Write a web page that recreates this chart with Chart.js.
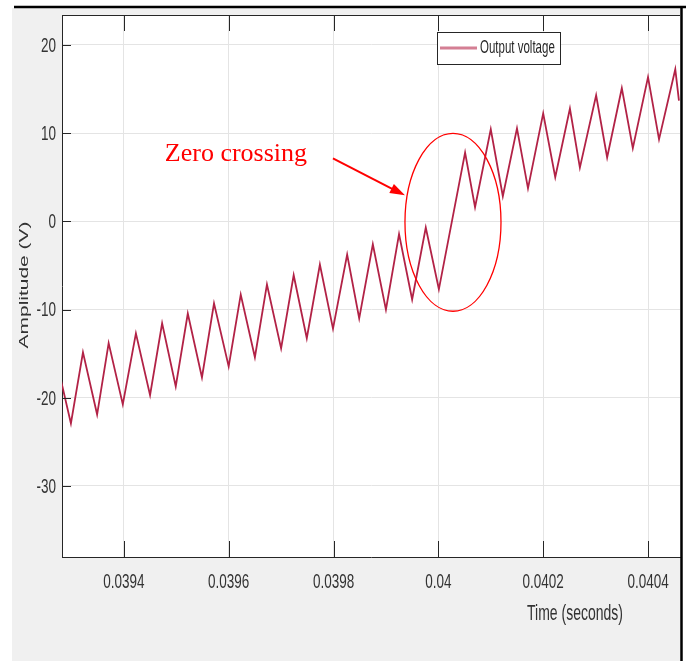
<!DOCTYPE html>
<html>
<head>
<meta charset="utf-8">
<script src="https://cdn.jsdelivr.net/npm/chart.js"></script>
<style>
  body { margin: 0; background: #fff; }
  canvas { display: block; }
</style>
</head>
<body>
<canvas id="myChart" width="686" height="663"></canvas>
<script>
// waveform (time in s, amplitude in V)
var timeValues = [
  0.03928, 0.039299, 0.039322, 0.039349, 0.039371, 0.039398, 0.039423, 0.03945,
  0.039473, 0.039499, 0.039522, 0.039549, 0.039572, 0.0396, 0.039623, 0.03965,
  0.039673, 0.0397, 0.039724, 0.039749, 0.039774, 0.039799, 0.039826, 0.039849,
  0.039875, 0.0399, 0.039925, 0.03995, 0.039976, 0.040001, 0.040051, 0.04007,
  0.0401, 0.040123, 0.04015, 0.040171, 0.0402, 0.040223, 0.040251, 0.04027,
  0.040301, 0.040322, 0.04035, 0.040371, 0.0404, 0.040421, 0.040452, 0.040459
];
var voltageValues = [
  -18.0, -22.9, -14.85, -21.9, -13.8, -20.75, -12.7, -19.7,
  -11.55, -18.7, -10.45, -17.7, -9.3, -16.45, -8.3, -15.4,
  -7.15, -14.4, -6.1, -13.25, -4.9, -12.15, -3.75, -11.0,
  -2.6, -10.0, -1.45, -8.85, -0.7, -7.7, 7.8, 1.6,
  10.45, 2.85, 10.55, 3.75, 12.25, 5.0, 12.8, 6.1,
  14.3, 7.25, 15.1, 8.3, 16.35, 9.3, 17.25, 13.7
];
var xTickValues = [0.0394, 0.0396, 0.0398, 0.04, 0.0402, 0.0404];
var xTickLabels = ['0.0394', '0.0396', '0.0398', '0.04', '0.0402', '0.0404'];
var yTickValues = [-30, -20, -10, 0, 10, 20];
var yTickLabels = ['-30', '-20', '-10', '0', '10', '20'];
var seriesName = 'Output voltage';
var xTitle = 'Time (seconds)';
var yTitle = 'Amplitude (V)';
var noteText = 'Zero crossing';

// the capture is squashed sideways, so its text looks tall and narrow
var STRETCH = 1.55;
var SANS = '"Liberation Sans", Arial, Helvetica, sans-serif';

function tallText(ctx, text, x, y, size, align) {
  ctx.save();
  ctx.translate(x, y);
  ctx.scale(1, STRETCH);
  ctx.font = size + 'px ' + SANS;
  ctx.textAlign = align;
  ctx.textBaseline = 'middle';
  ctx.fillText(text, 0, 0);
  ctx.restore();
}

function line(ctx, x1, y1, x2, y2) {
  ctx.beginPath();
  ctx.moveTo(x1, y1);
  ctx.lineTo(x2, y2);
  ctx.stroke();
}

var figurePlugin = {
  id: 'figure',
  beforeDraw: function(chart) {
    var ctx = chart.ctx, a = chart.chartArea;
    ctx.save();
    ctx.fillStyle = '#fff';
    ctx.fillRect(0, 0, chart.width, chart.height);
    ctx.fillStyle = '#f0f0f0';
    ctx.fillRect(12, 8, 670, 653);
    ctx.fillStyle = '#fff';
    ctx.fillRect(a.left, a.top, a.right - a.left, a.bottom - a.top);
    ctx.restore();
  },
  afterDraw: function(chart) {
    var ctx = chart.ctx, a = chart.chartArea;
    var xs = chart.scales.x, ys = chart.scales.y;
    ctx.save();

    // axes box and inward ticks
    ctx.strokeStyle = '#262626';
    ctx.lineWidth = 1;
    line(ctx, a.left, a.top + 0.5, a.right, a.top + 0.5);
    xTickValues.forEach(function(v) {
      var px = Math.round(xs.getPixelForValue(v)) + 0.5;
      line(ctx, px, a.bottom, px, a.bottom - 16);
      line(ctx, px, a.top, px, a.top + 16);
    });
    yTickValues.forEach(function(v) {
      var py = Math.round(ys.getPixelForValue(v)) + 0.5;
      line(ctx, a.left, py, a.left + 9, py);
    });

    // figure frame edges
    ctx.strokeStyle = '#000';
    ctx.lineWidth = 2.5;
    line(ctx, 14, 7, 686, 7);
    line(ctx, 681.5, 7, 681.5, 661);

    // tick labels and axis titles
    ctx.fillStyle = '#333';
    xTickValues.forEach(function(v, i) {
      tallText(ctx, xTickLabels[i], xs.getPixelForValue(v), 582, 13.5, 'center');
    });
    yTickValues.forEach(function(v, i) {
      tallText(ctx, yTickLabels[i], a.left - 6, ys.getPixelForValue(v) + 1, 13.5, 'right');
    });
    tallText(ctx, xTitle, 575, 614, 14, 'center');

    ctx.save();
    ctx.translate(24, 285);
    ctx.rotate(-Math.PI / 2);
    ctx.scale(STRETCH, 1);
    ctx.font = '13.5px ' + SANS;
    ctx.textAlign = 'center';
    ctx.textBaseline = 'middle';
    ctx.fillText(yTitle, 0, 0);
    ctx.restore();

    // legend box
    ctx.fillStyle = '#fff';
    ctx.fillRect(437, 32, 123, 32);
    ctx.strokeStyle = '#262626';
    ctx.lineWidth = 1;
    ctx.strokeRect(437.5, 32.5, 123, 32);
    ctx.strokeStyle = '#d47f94';
    ctx.lineWidth = 3;
    line(ctx, 440, 48, 477, 48);
    ctx.fillStyle = '#262626';
    tallText(ctx, seriesName, 480, 48, 11.5, 'left');

    // zero crossing note, placed in data units
    ctx.strokeStyle = '#ff0000';
    ctx.fillStyle = '#ff0000';
    ctx.font = '26px "Liberation Serif", "Times New Roman", serif';
    ctx.textAlign = 'left';
    ctx.textBaseline = 'alphabetic';
    ctx.fillText(noteText, xs.getPixelForValue(0.0394782), ys.getPixelForValue(6.8));

    var x1 = xs.getPixelForValue(0.0397989), y1 = ys.getPixelForValue(7.14);
    var x2 = xs.getPixelForValue(0.0399363), y2 = ys.getPixelForValue(2.95);
    var ang = Math.atan2(y2 - y1, x2 - x1);
    ctx.lineWidth = 2;
    line(ctx, x1, y1, x2 - 10 * Math.cos(ang), y2 - 10 * Math.sin(ang));
    ctx.beginPath();
    ctx.moveTo(x2, y2);
    ctx.lineTo(x2 - 15 * Math.cos(ang) + 5 * Math.sin(ang), y2 - 15 * Math.sin(ang) - 5 * Math.cos(ang));
    ctx.lineTo(x2 - 15 * Math.cos(ang) - 5 * Math.sin(ang), y2 - 15 * Math.sin(ang) + 5 * Math.cos(ang));
    ctx.closePath();
    ctx.fill();

    var cx = xs.getPixelForValue(0.0400279), cy = ys.getPixelForValue(-0.1);
    var rx = xs.getPixelForValue(0.0400279 + 0.0000916) - cx;
    var ry = cy - ys.getPixelForValue(-0.1 + 10.09);
    ctx.lineWidth = 1.3;
    ctx.beginPath();
    ctx.ellipse(cx, cy, rx, ry, 0, 0, Math.PI * 2);
    ctx.stroke();

    ctx.restore();
  }
};

var points = timeValues.map(function(t, i) {
  return { x: t, y: voltageValues[i] };
});

var ctx = document.getElementById('myChart').getContext('2d');
var chart = new Chart(ctx, {
  type: 'line',
  data: {
    datasets: [{
      label: seriesName,
      data: points,
      borderColor: 'rgb(178, 34, 70)',
      borderWidth: 1.8,
      pointRadius: 0,
      tension: 0,
      fill: false
    }]
  },
  options: {
    responsive: false,
    animation: false,
    devicePixelRatio: 1,
    layout: { padding: { top: 15, right: 6, left: 0, bottom: 0 } },
    plugins: {
      legend: { display: false },
      tooltip: { enabled: false }
    },
    scales: {
      x: {
        type: 'linear',
        min: 0.039282,
        max: 0.040461,
        afterBuildTicks: function(s) {
          s.ticks = xTickValues.map(function(v) { return { value: v }; });
        },
        afterFit: function(s) { s.height = 106; },
        ticks: { display: false },
        grid: { color: '#e4e4e4', drawTicks: false },
        border: { color: '#262626' }
      },
      y: {
        type: 'linear',
        min: -38.05,
        max: 23.4,
        afterBuildTicks: function(s) {
          s.ticks = yTickValues.map(function(v) { return { value: v }; });
        },
        afterFit: function(s) { s.width = 62; },
        ticks: { display: false },
        grid: { color: '#e4e4e4', drawTicks: false },
        border: { color: '#262626' }
      }
    }
  },
  plugins: [figurePlugin]
});
</script>
</body>
</html>
